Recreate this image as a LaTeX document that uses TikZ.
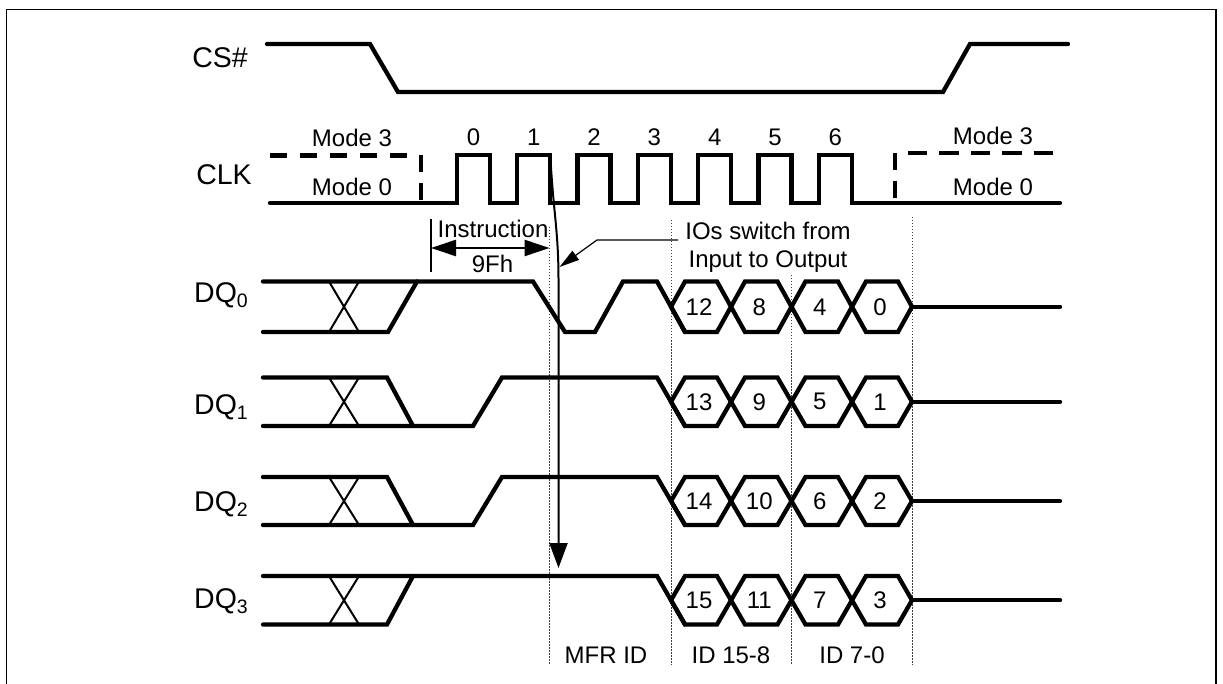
\documentclass[tikz,border=0pt]{standalone}
\usepackage{fontspec}
\setmainfont{Liberation Sans}
\usetikzlibrary{arrows.meta}
\newcommand\dqsub[1]{\raisebox{-5pt}{\fontsize{19.5}{19.5}\selectfont #1}}
\newcommand\hexbus[6]{%
  \foreach \a/\b/\t in {671/731/#3,731/791.5/#4,791.5/852/#5,852/912/#6}{
    \draw[sig] (\a,{(#1+#2)/2}) -- (\a+14,#1) -- (\b-14,#1) -- (\b,{(#1+#2)/2}) -- (\b-14,#2) -- (\a+14,#2) -- cycle;
    \node[txt] (hx\t) at ({(\a+\b)/2-2},{(#1+#2)/2}) {\t};
  }
  \draw[sig] (912,{(#1+#2)/2}) -- (1060,{(#1+#2)/2});
}
\begin{document}
\begin{tikzpicture}[x=1pt,y=-1pt,
  sig/.style={line width=4.3pt,line cap=round,line join=miter},
  thinx/.style={line width=2pt},
  lbl/.style={font=\fontsize{28.5}{28.5}\selectfont,inner sep=0pt},
  txt/.style={font=\fontsize{24}{24}\selectfont,inner sep=0pt},
  grid/.style={line width=0.9pt,dash pattern=on 1.5pt off 1.5pt,black!75},
  dsh/.style={line width=4.6pt,line cap=butt},
]
\useasboundingbox (0,0) rectangle (1223,684);
% frame
\draw[line width=1.5pt] (6.5,684) -- (6.5,9.5) -- (1216,9.5) -- (1216,684);

% dotted guide lines
\coordinate (g1t) at (549.5,227); \coordinate (g1b) at (549.5,665);
\coordinate (g2t) at (671,220);   \coordinate (g2b) at (671,665);
\coordinate (g3t) at (791.5,275); \coordinate (g3b) at (791.5,665);
\coordinate (g4t) at (912,217);   \coordinate (g4b) at (912,665);
\draw[grid] (g1t) -- (g1b);
\draw[grid] (g2t) -- (g2b);
\draw[grid] (g3t) -- (g3b);
\draw[grid] (g4t) -- (g4b);

% CS#
\draw[sig] (267,44) -- (370,44) -- (398,92) -- (943,92) -- (970,44) -- (1068,44);

% CLK
\draw[sig] (270,203) -- (457,203) -- (457,155) -- (490,155) -- (490,203)
  -- (517.3,203) -- (517.3,155) -- (550.3,155) -- (550.3,203)
  -- (577.6,203) -- (577.6,155) -- (610.6,155) -- (610.6,203)
  -- (637.9,203) -- (637.9,155) -- (670.9,155) -- (670.9,203)
  -- (698.2,203) -- (698.2,155) -- (731.2,155) -- (731.2,203)
  -- (758.5,203) -- (758.5,155) -- (791.5,155) -- (791.5,203)
  -- (818.8,203) -- (818.8,155) -- (851.8,155) -- (851.8,203) -- (1060,203);
\draw[dsh,dash pattern=on 17pt off 13pt] (270,155.5) -- (407,155.5);
\draw[dsh,dash pattern=on 17pt off 11pt] (421,155) -- (421,203);
\draw[dsh,dash pattern=on 17pt off 11pt] (895,153) -- (895,203);
\draw[dsh,dash pattern=on 19.4pt off 12pt] (908,153) -- (1053,153);

% DQ0
\draw[sig] (263,281.5) -- (533,281.5) -- (565,332) -- (595,332) -- (623,281.5) -- (657,281.5) -- (685,332);
\draw[sig] (263,332) -- (388,332) -- (417,281.5);
\draw[thinx] (329,281.5) -- (359,332) (329,332) -- (359,281.5);
\hexbus{281.5}{332}{12}{8}{4}{0}

% DQ1
\draw[sig] (263,377.5) -- (387,377.5) -- (413,426);
\draw[sig] (263,426) -- (473,426) -- (502,377.5) -- (657,377.5) -- (685,426);
\draw[thinx] (329,377.5) -- (359,426) (329,426) -- (359,377.5);
\hexbus{377.5}{426}{13}{9}{5}{1}

% DQ2
\draw[sig] (263,477) -- (387,477) -- (413,525);
\draw[sig] (263,525) -- (473,525) -- (502,477) -- (657,477) -- (685,525);
\draw[thinx] (329,477) -- (359,525) (329,525) -- (359,477);
\hexbus{477}{525}{14}{10}{6}{2}

% DQ3
\draw[sig] (263,576) -- (657,576) -- (685,624.5);
\draw[sig] (263,624.5) -- (387,624.5) -- (413,576);
\draw[thinx] (329,576) -- (359,624.5) (329,624.5) -- (359,576);
\hexbus{576}{624.5}{15}{11}{7}{3}

% labels
\node[lbl,anchor=base] (cs) at (220,68) {CS\#};
\node[lbl,anchor=base] (clk) at (224,185) {CLK};
\node[lbl,anchor=base west] (dq0) at (194,303) {DQ\dqsub{0}};
\node[lbl,anchor=base west] (dq1) at (194,414) {DQ\dqsub{1}};
\node[lbl,anchor=base west] (dq2) at (194,511) {DQ\dqsub{2}};
\node[lbl,anchor=base west] (dq3) at (194,608) {DQ\dqsub{3}};

\node[txt,anchor=base] (m3l) at (352,147) {Mode 3};
\node[txt,anchor=base] (m0l) at (352,196) {Mode 0};
\node[txt,anchor=base] (m3r) at (993,145) {Mode 3};
\node[txt,anchor=base] (m0r) at (993,196) {Mode 0};
\foreach \n/\x in {0/473.5,1/533.8,2/594.1,3/654.4,4/714.7,5/775,6/835.3}
  \node[txt,anchor=base] (ck\n) at (\x,145.5) {\n};

% instruction
\coordinate (ib1) at (431,219); \coordinate (ib2) at (431,272);
\coordinate (ia1) at (431,248); \coordinate (ia2) at (549.5,248);
\draw[line width=2.5pt] (ib1) -- (ib2);
\draw[line width=2.5pt,{Triangle[length=25pt,width=16pt]}-{Triangle[length=25pt,width=16pt]}] (ia1) -- (ia2);
\node[txt,anchor=base] (instr) at (493,238) {Instruction};
\node[txt,anchor=base] (nfh) at (492.5,273) {9Fh};

% IO switch note
\node[txt,anchor=base] (ios1) at (768,240) {IOs switch from};
\node[txt,anchor=base] (ios2) at (768,268) {Input to Output};
\coordinate (ld0) at (678,240); \coordinate (ld1) at (597,240); \coordinate (ld2) at (559.5,267);
\draw[line width=1.2pt,-{Triangle[length=20pt,width=11pt]}] (ld0) -- (ld1) -- (ld2);

% long arrow from CLK edge
\coordinate (la0) at (550.3,155); \coordinate (la1) at (558.5,280); \coordinate (la2) at (558.5,568);
\draw[line width=2pt,-{Triangle[length=25pt,width=18pt]}] (la0) .. controls (553,210) and (558.5,230) .. (la1) -- (la2);

% bottom labels
\node[txt,anchor=base] (mfr) at (606,663) {MFR ID};
\node[txt,anchor=base] (id158) at (731,663) {ID 15-8};
\node[txt,anchor=base] (id70) at (852,663) {ID 7-0};
\end{tikzpicture}
\end{document}
